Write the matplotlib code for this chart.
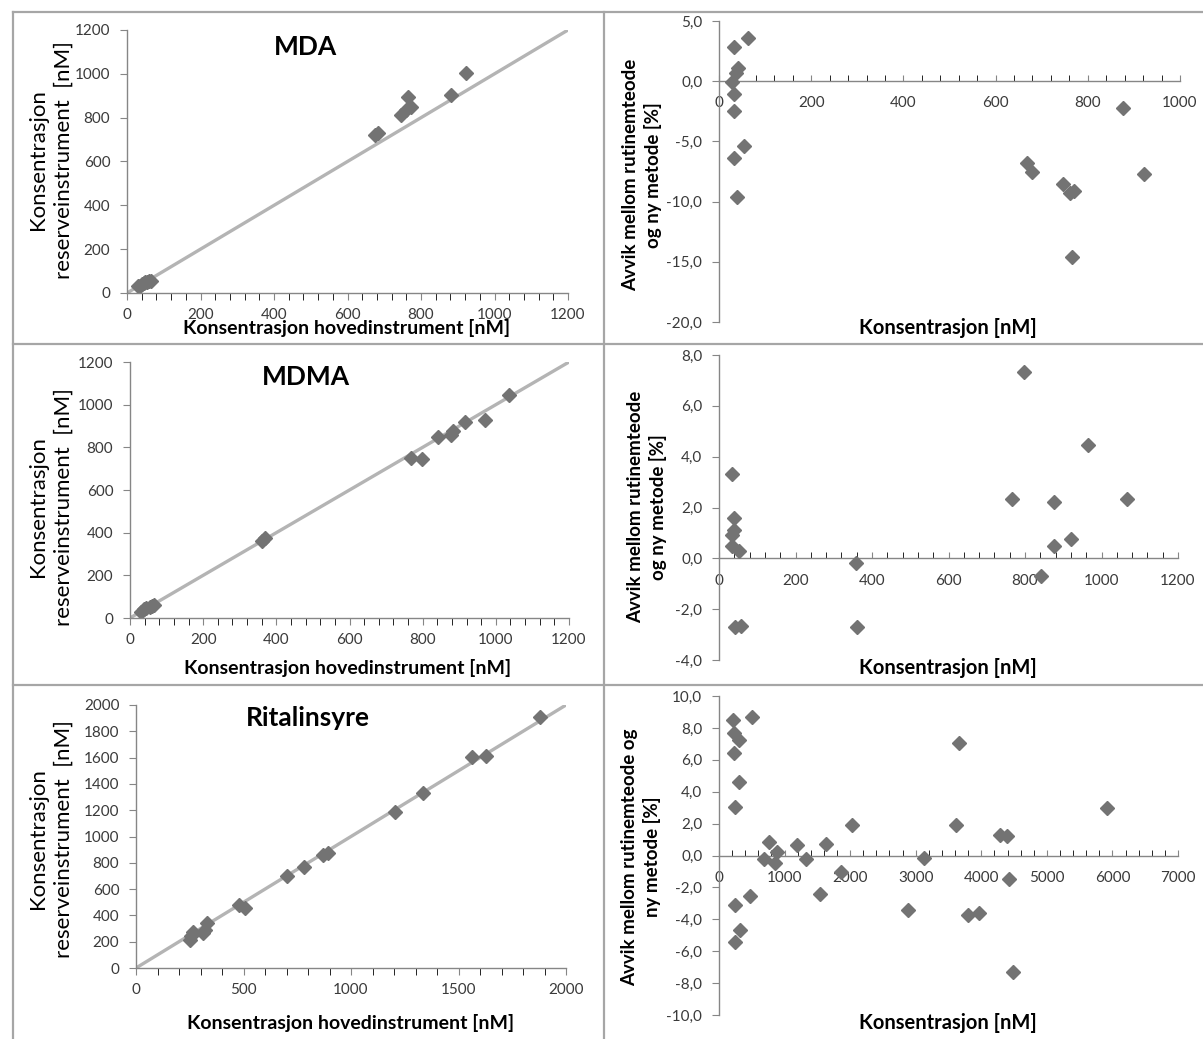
import matplotlib.pyplot as plt
from matplotlib.lines import Line2D
from matplotlib.ticker import MultipleLocator, FuncFormatter

plt.rcParams['font.family'] = ['Lato', 'DejaVu Sans']

W, H = 1203, 1039

# MDA
mda_hoved = [30, 35, 40, 45, 50, 55, 60, 65, 674, 682, 746, 760, 765, 772, 881, 922]
mda_reserve = [30, 34, 42, 46, 49, 52, 55, 57, 720, 730, 811, 833, 894, 848, 902, 1003]
mda_konz = [33, 62, 42, 37, 29, 33, 33, 54, 33, 39, 877, 669, 679, 746, 762, 769, 765, 921]
mda_avvik = [2.8, 3.6, 1.1, 0.7, -0.1, -1.1, -2.5, -5.4, -6.4, -9.6, -2.2, -6.8, -7.5, -8.5, -9.25, -9.1, -14.6, -7.7]

# MDMA
mdma_hoved = [30, 38, 45, 55, 60, 65, 360, 368, 768, 799, 841, 878, 883, 917, 970, 1036]
mdma_reserve = [30, 40, 45, 50, 58, 62, 360, 375, 750, 745, 848, 859, 875, 917, 927, 1043]
mdma_konz = [33, 40, 40, 33, 33, 52, 43, 58, 358, 362, 766, 798, 843, 876, 876, 920, 966, 1066]
mdma_avvik = [3.3, 1.6, 1.1, 0.9, 0.5, 0.3, -2.7, -2.65, -0.2, -2.7, 2.35, 7.35, -0.7, 2.2, 0.5, 0.75, 4.45, 2.35]

# Ritalinsyre
rit_hoved = [249, 258, 267, 311, 320, 329, 480, 507, 702, 782, 868, 894, 1205, 1337, 1564, 1630, 1881]
rit_reserve = [215, 241, 271, 266, 291, 342, 481, 456, 701, 767, 861, 878, 1185, 1334, 1603, 1613, 1906]
rit_konz = [216, 233, 303, 233, 303, 251, 496, 251, 321, 251, 467, 688, 770, 858, 887, 1184,
            1330, 1540, 1628, 1867, 2030, 2876, 3121, 3617, 3658, 3803, 3967, 4288, 4387, 4422, 4480, 5922]
rit_avvik = [8.5, 7.7, 7.25, 6.4, 4.6, 3.05, 8.7, -3.1, -4.65, -5.45, -2.55, -0.2, 0.85, -0.5, 0.2, 0.65,
             -0.2, -2.4, 0.75, -1.05, 1.9, -3.4, -0.15, 1.9, 7.05, -3.75, -3.6, 1.3, 1.2, -1.5, -7.3, 2.95]

marker_col = "#737373"
line_col = "#b4b4b4"
axis_col = "#868686"
text_col = "#3a3a3a"

fig = plt.figure(figsize=(W / 100, H / 100), dpi=100)


def make_ax(l, r, t, b):
    return fig.add_axes([l / W, 1 - b / H, (r - l) / W, (b - t) / H])


def frac(ax_box, px, py):
    l, r, t, b = ax_box
    return (px - l) / (r - l), (b - py) / (b - t)


def style_common(ax):
    for s in ["top", "right"]:
        ax.spines[s].set_visible(False)
    for s in ["left", "bottom"]:
        ax.spines[s].set_color(axis_col)
        ax.spines[s].set_linewidth(1)
    ax.tick_params(colors=axis_col, labelcolor=text_col, labelsize=11)
    ax.set_facecolor("none")


def scatter_panel(box, xs, ys, lim, major, title, title_pos, ylab_pos, xlab_pos):
    ax = make_ax(*box)
    style_common(ax)
    ax.plot([0, lim], [0, lim], color=line_col, lw=2.4, zorder=1)
    ax.plot(xs, ys, ls="none", marker="D", ms=7.5, color=marker_col, zorder=2)
    ax.set_xlim(0, lim)
    ax.set_ylim(0, lim)
    ax.xaxis.set_major_locator(MultipleLocator(major))
    ax.xaxis.set_minor_locator(MultipleLocator(major / 5))
    ax.yaxis.set_major_locator(MultipleLocator(200))
    ax.tick_params(axis="x", which="both", direction="out", length=5, pad=6)
    ax.tick_params(axis="y", which="major", direction="out", length=5, pad=7)
    ax.text(*frac(box, *title_pos), title, transform=ax.transAxes, ha="center", va="center",
            fontsize=19, fontweight="bold", color="black")
    ax.set_ylabel("Konsentrasjon\nreserveinstrument  [nM]", fontsize=16, color="black",
                  linespacing=1.35)
    ax.yaxis.set_label_coords(*frac(box, *ylab_pos))
    ax.yaxis.label.set_va("center")
    ax.set_xlabel("Konsentrasjon hovedinstrument [nM]", fontsize=14, fontweight="bold", color="black")
    ax.xaxis.set_label_coords(*frac(box, *xlab_pos))
    ax.xaxis.label.set_va("center")
    return ax


def avvik_panel(box, xs, ys, xmax, xmajor, ylims, ymajor, ylab, ylab_pos, xlab_pos):
    ax = make_ax(*box)
    style_common(ax)
    ax.spines["bottom"].set_position(("data", 0))
    ax.plot(xs, ys, ls="none", marker="D", ms=7.5, color=marker_col, zorder=3, clip_on=False)
    ax.set_xlim(0, xmax)
    ax.set_ylim(*ylims)
    ax.xaxis.set_major_locator(MultipleLocator(xmajor))
    ax.xaxis.set_minor_locator(MultipleLocator(xmajor / 5))
    ax.yaxis.set_major_locator(MultipleLocator(ymajor))
    ax.yaxis.set_major_formatter(FuncFormatter(lambda v, p: f"{v:.1f}".replace(".", ",")))
    ax.tick_params(axis="x", which="both", direction="in", length=4, pad=11)
    ax.tick_params(axis="y", which="major", direction="out", length=5, pad=7)
    ax.set_ylabel(ylab, fontsize=13.5, fontweight="bold", color="black", linespacing=1.35)
    ax.yaxis.set_label_coords(*frac(box, *ylab_pos))
    ax.yaxis.label.set_va("center")
    ax.set_xlabel("Konsentrasjon [nM]", fontsize=14.5, fontweight="bold", color="black")
    ax.xaxis.set_label_coords(*frac(box, *xlab_pos))
    ax.xaxis.label.set_va("center")
    return ax


scatter_panel((127, 568, 30, 293), mda_hoved, mda_reserve, 1200, 200, "MDA",
              (306, 47), (51, 160), (347, 328))
scatter_panel((130, 569, 362, 618), mdma_hoved, mdma_reserve, 1200, 200, "MDMA",
              (306, 377), (51, 507), (348, 668))
scatter_panel((136, 566, 705, 968), rit_hoved, rit_reserve, 2000, 500, "Ritalinsyre",
              (308, 718), (51, 839), (351, 1023))

avvik_panel((719, 1180, 21, 322), mda_konz, mda_avvik, 1000, 200, (-20, 5), 5,
            "Avvik mellom rutinemteode\nog ny metode [%]", (642, 175), (948, 328))
avvik_panel((719, 1178, 355, 660), mdma_konz, mdma_avvik, 1200, 200, (-4, 8), 2,
            "Avvik mellom rutinemteode\nog ny metode [%]", (647, 507), (948, 668))
avvik_panel((719, 1178, 696, 1015), rit_konz, rit_avvik, 7000, 1000, (-10, 10), 2,
            "Avvik mellom rutinemteode og\nny metode [%]", (641, 857), (948, 1023))

# table borders around the panels
border = dict(color="#a6a6a6", lw=1.6, transform=fig.transFigure)
for x0, y0, x1, y1 in [(13, 12, W, 12), (13, 12, 13, H), (604, 12, 604, H),
                       (13, 344, W, 344), (13, 685, W, 685)]:
    fig.add_artist(Line2D([x0 / W, x1 / W], [1 - y0 / H, 1 - y1 / H], **border))

fig.savefig("out.png", dpi=100)
